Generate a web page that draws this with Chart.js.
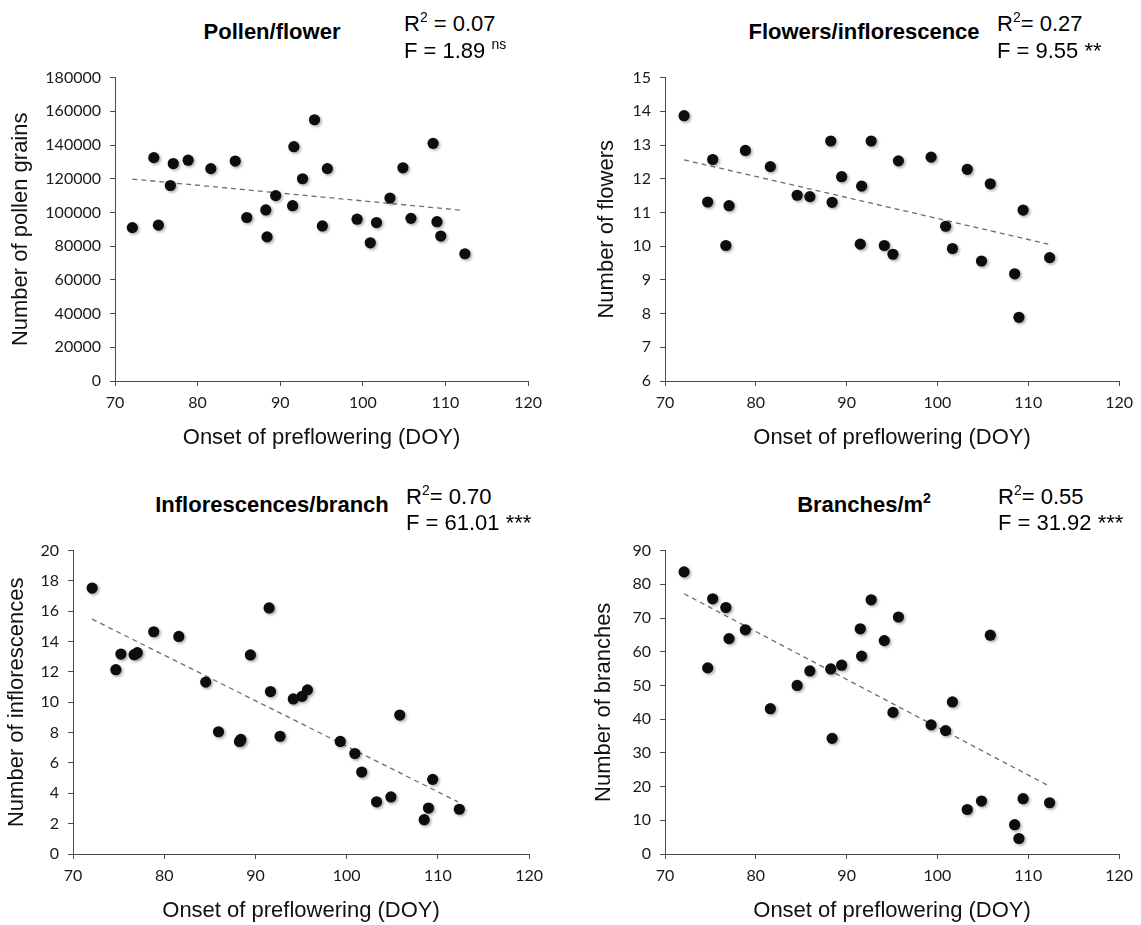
<!DOCTYPE html>
<html>
<head>
<meta charset="utf-8">
<script src="https://cdn.jsdelivr.net/npm/chart.js@4.4.1/dist/chart.umd.min.js"></script>
<style>
  html, body { margin: 0; padding: 0; background: #fff; }
  body { width: 1141px; height: 925px; position: relative; overflow: hidden; }
  canvas { position: absolute; }
  .ttl { position: absolute; font: bold 22px "Liberation Sans", Arial, sans-serif; line-height: 22px; color: #000; white-space: nowrap; transform: translateX(-50%); }
  .st { position: absolute; font: 22px "Liberation Sans", Arial, sans-serif; line-height: 22px; color: #000; white-space: nowrap; }
  .sup { position: relative; top: -9px; font-size: 14px; line-height: 0; }
</style>
</head>
<body>
<canvas id="c1"></canvas>
<canvas id="c2"></canvas>
<canvas id="c3"></canvas>
<canvas id="c4"></canvas>

<div class="ttl" style="left:272px; top:21px">Pollen/flower</div>
<div class="st" style="left:404px; top:13px">R<span class="sup">2</span> = 0.07</div>
<div class="st" style="left:404px; top:40px">F = 1.89 <span class="sup">ns</span></div>

<div class="ttl" style="left:864px; top:21px">Flowers/inflorescence</div>
<div class="st" style="left:997px; top:13px">R<span class="sup">2</span>= 0.27</div>
<div class="st" style="left:997px; top:40px">F = 9.55 **</div>

<div class="ttl" style="left:272px; top:494px">Inflorescences/branch</div>
<div class="st" style="left:406px; top:486px">R<span class="sup">2</span>= 0.70</div>
<div class="st" style="left:406px; top:512px">F = 61.01 ***</div>

<div class="ttl" style="left:864px; top:494px">Branches/m<span class="sup">2</span></div>
<div class="st" style="left:998px; top:486px">R<span class="sup">2</span>= 0.55</div>
<div class="st" style="left:998px; top:512px">F = 31.92 ***</div>

<script>
// onset of preflowering (day of year), shared by all four panels
const doy = [72.1, 74.7, 75.25, 76.7, 77.05, 78.85, 81.6, 84.55, 85.95, 88.25, 88.4, 89.45, 91.5, 91.65,
  92.7, 94.15, 95.1, 95.7, 99.3, 100.9, 101.65, 103.28, 104.85, 105.82, 108.5, 108.97, 109.43, 112.35];

const pollenPerFlower = [91000, 132500, 92500, 116000, 129000, 131000, 126000, 130500, 97000, 101500, 85500, 110000, 104000, 139000,
  120000, 155000, 92000, 126000, 96000, 82000, 94000, 108500, 126500, 96500, 141000, 94500, 86000, 75500];
const flowersPerInflorescence = [13.87, 11.31, 12.57, 10.02, 11.2, 12.84, 12.36, 11.51, 11.47, 13.12, 11.3, 12.06, 10.06, 11.78,
  13.12, 10.02, 9.76, 12.53, 12.64, 10.59, 9.93, 12.28, 9.56, 11.85, 9.18, 7.89, 11.07, 9.66];
const inflorescencesPerBranch = [17.53, 12.15, 13.18, 13.14, 13.27, 14.65, 14.34, 11.33, 8.06, 7.42, 7.55, 13.12, 16.22, 10.71,
  7.76, 10.22, 10.39, 10.82, 7.42, 6.62, 5.4, 3.44, 3.76, 9.16, 2.26, 3.03, 4.92, 2.95];
const branchesPerM2 = [83.7, 55.2, 75.7, 73.1, 63.9, 66.5, 43.1, 50.0, 54.3, 54.9, 34.3, 56.0, 66.8, 58.7,
  75.4, 63.3, 42.0, 70.3, 38.3, 36.6, 45.1, 13.2, 15.7, 64.9, 8.7, 4.6, 16.4, 15.2];

// fitted trend lines, read as end points
const trendX = [72.1, 112.2];
const pollenTrend = [119800, 101200];
const flowersTrend = [12.56, 10.06];
const inflorescencesTrend = [15.48, 3.44];
const branchesTrend = [77.2, 20.3];

const xTicks = { min: 70, max: 120, step: 10 };
const pollenTicks = { min: 0, max: 180000, step: 20000 };
const flowersTicks = { min: 6, max: 15, step: 1 };
const inflorescencesTicks = { min: 0, max: 20, step: 2 };
const branchesTicks = { min: 0, max: 90, step: 10 };

const xTitle = 'Onset of preflowering (DOY)';

const panels = [
  { id: 'c1', y: pollenPerFlower, trend: pollenTrend, ticks: pollenTicks, yTitle: 'Number of pollen grains',
    left: 115, right: 529, top: 71, bottom: 381, titleGap: 94 },
  { id: 'c2', y: flowersPerInflorescence, trend: flowersTrend, ticks: flowersTicks, yTitle: 'Number of flowers',
    left: 665, right: 1122, top: 71, bottom: 381, titleGap: 58 },
  { id: 'c3', y: inflorescencesPerBranch, trend: inflorescencesTrend, ticks: inflorescencesTicks, yTitle: 'Number of inflorescences',
    left: 73, right: 530, top: 544, bottom: 854, titleGap: 56 },
  { id: 'c4', y: branchesPerM2, trend: branchesTrend, ticks: branchesTicks, yTitle: 'Number of branches',
    left: 665, right: 1122, top: 544, bottom: 854, titleGap: 61 }
];

const dotShadow = {
  id: 'dotShadow',
  beforeDatasetDraw(chart, args) {
    if (args.index !== 1) return;
    const ctx = chart.ctx;
    ctx.save();
    ctx.shadowColor = 'rgba(0,0,0,0.35)';
    ctx.shadowBlur = 3;
    ctx.shadowOffsetX = 1.5;
    ctx.shadowOffsetY = 1.5;
  },
  afterDatasetDraw(chart, args) {
    if (args.index !== 1) return;
    chart.ctx.restore();
  }
};

const tickFont = { family: 'Lato', size: 16 };
const titleFont = { family: "'Liberation Sans', Arial", size: 22 };
const axisColor = '#4a4a4a';
const padTop = 12;
const xBoxHeight = 70;

panels.forEach((p) => {
  const yBoxWidth = p.titleGap + 13;
  const padRight = Math.min(20, 1140 - p.right);
  const canvas = document.getElementById(p.id);
  const cl = p.left - yBoxWidth;
  const ct = p.top - padTop;
  canvas.style.left = cl + 'px';
  canvas.style.top = ct + 'px';
  canvas.width = p.right + padRight - cl;
  canvas.height = p.bottom + xBoxHeight - ct;

  new Chart(canvas, {
    type: 'scatter',
    data: {
      datasets: [
        {
          type: 'line',
          data: trendX.map((x, i) => ({ x, y: p.trend[i] })),
          borderColor: '#6e6e6e',
          borderWidth: 1.3,
          borderDash: [5, 4],
          pointRadius: 0,
          fill: false,
          order: 2
        },
        {
          data: doy.map((x, i) => ({ x, y: p.y[i] })),
          backgroundColor: '#0d0d0d',
          borderWidth: 0,
          pointRadius: 5.6,
          order: 1
        }
      ]
    },
    options: {
      responsive: false,
      animation: false,
      devicePixelRatio: 1,
      layout: { padding: { top: padTop, right: padRight, left: 0, bottom: 0 } },
      plugins: { legend: { display: false }, tooltip: { enabled: false } },
      scales: {
        x: {
          type: 'linear',
          position: 'bottom',
          min: xTicks.min,
          max: xTicks.max,
          afterFit: (scale) => { scale.height = xBoxHeight; },
          ticks: { stepSize: xTicks.step, font: tickFont, color: '#1a1a1a', padding: 7, maxRotation: 0 },
          grid: { drawOnChartArea: false, tickLength: 5, color: axisColor },
          border: { color: axisColor, width: 1 },
          title: { display: true, text: xTitle, font: titleFont, color: '#111', padding: 0 }
        },
        y: {
          type: 'linear',
          position: 'left',
          min: p.ticks.min,
          max: p.ticks.max,
          afterFit: (scale) => { scale.width = yBoxWidth; },
          ticks: { stepSize: p.ticks.step, font: tickFont, color: '#1a1a1a', padding: 9, callback: (v) => String(v) },
          grid: { drawOnChartArea: false, tickLength: 5, color: axisColor },
          border: { color: axisColor, width: 1 },
          title: { display: true, text: p.yTitle, font: titleFont, color: '#111', padding: 0 }
        }
      }
    },
    plugins: [dotShadow]
  });
});
</script>
</body>
</html>
